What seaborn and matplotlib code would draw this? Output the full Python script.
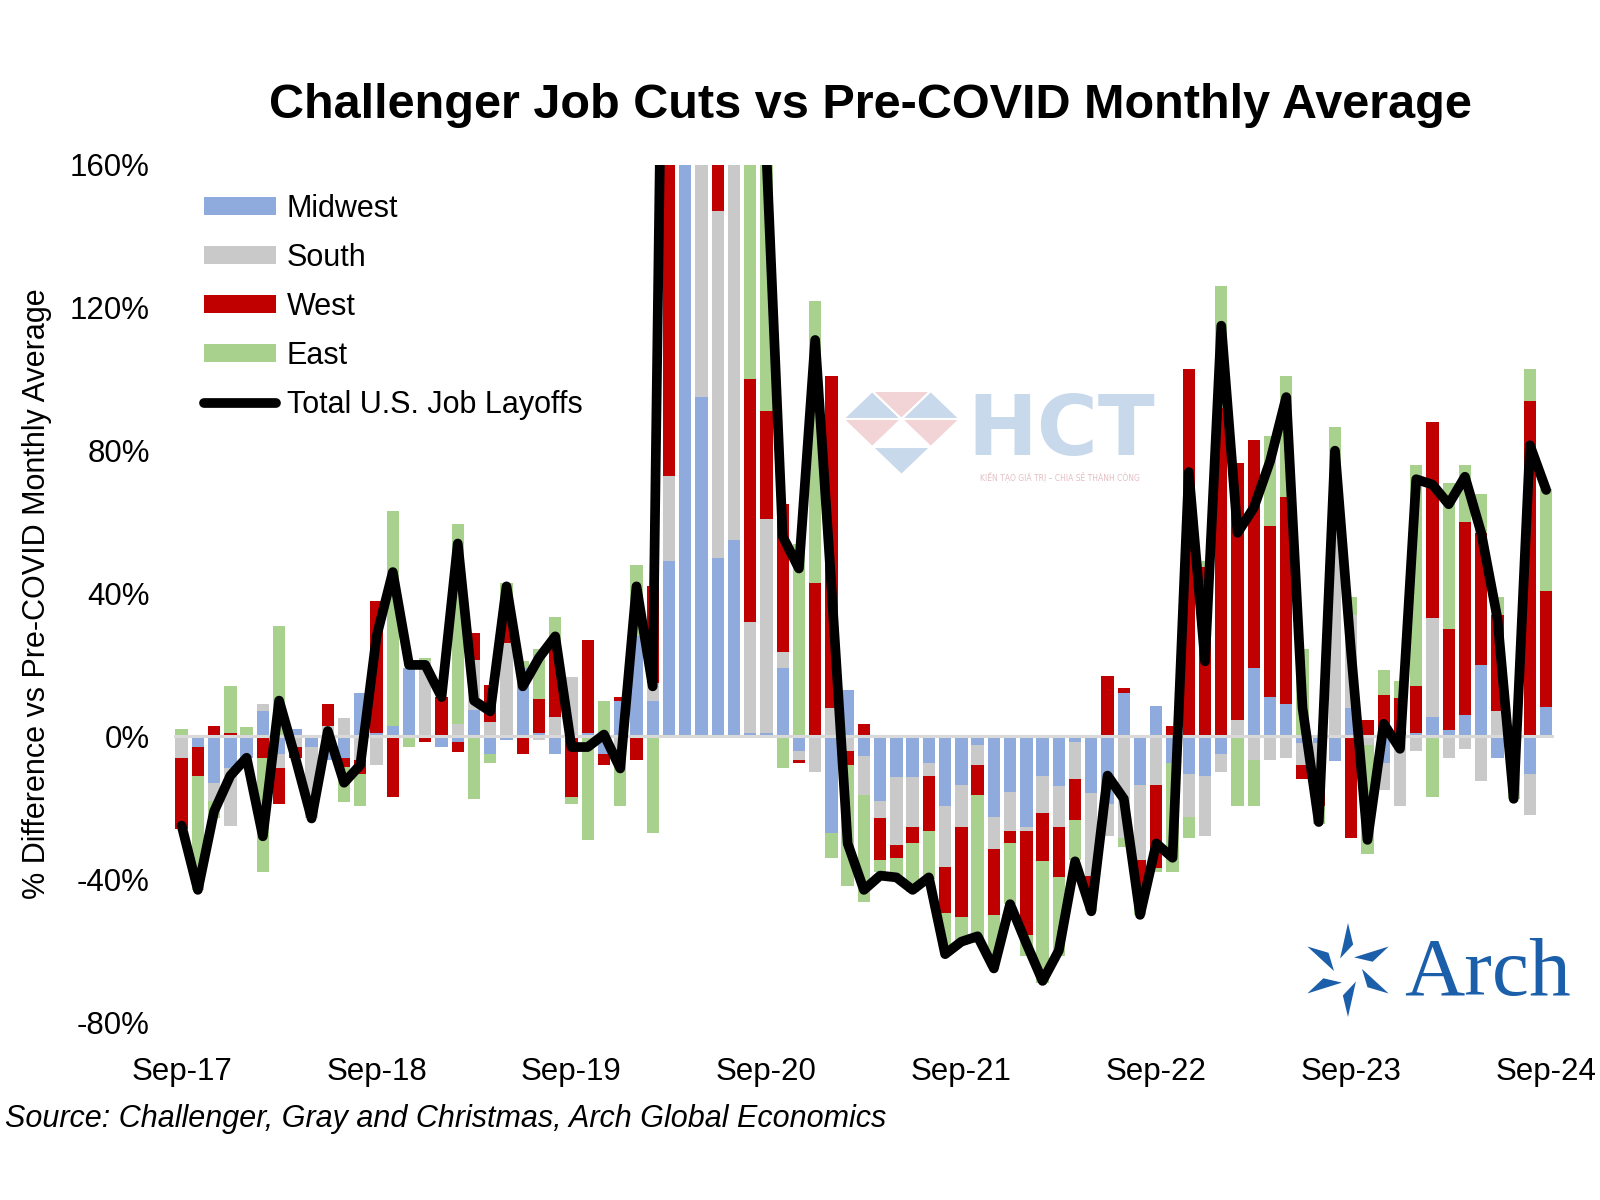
import numpy as np
import pandas as pd
import matplotlib
matplotlib.use('Agg')
import matplotlib.pyplot as plt
from matplotlib.patches import Patch, Polygon
from matplotlib.lines import Line2D
import seaborn as sns

# Monthly data, Sep-17 .. Sep-24 (% difference vs pre-COVID monthly average)
months = pd.date_range('2017-09-01', '2024-09-01', freq='MS')

midwest = [0, -3, -13, -9, -6, 7, -5, 2, -3, -6.5,
           -6, 12, 1, 3, 19, 0, -3, -1.5, 7.5, -5,
           -1, 19, 1, -5, 0, 1, -5, 10, 28, 10,
           49, 400, 95, 50, 55, 1, 1, 19, -4, 0,
           -27, 13, -5.5, -18, -11.5, -11.5, -7.5, -19.5, -13.5, -2.5,
           -22.5, -15.5, -25.5, -11, -14, -1.5, -16, -19, 12, -13.5,
           8.5, -7.5, -10.5, -11, -5, 0, 19, 11, 9, -2,
           -2, -7, 8, 0, -7.5, 0, 1, 5.5, 1.7, 6,
           20, -6, -1, -10.5, 8.3]
south = [-6, 0, -5, -16, 0, 2, -4, -3, -20, 3,
         5, -6.5, -8, 0, 0, 21, 0, 3.5, 14, 4,
         26, 0, -1, 5.5, 16.5, 0, 0, -3.5, 0, 5,
         24, 300, 300, 97, 200, 31, 60, 4.5, -2.5, -10,
         8, -4, -11, -5, -19, -14, -3.5, -17, -12, -5.5,
         -9, -11, -1, -10.5, -11.5, -10.5, -23, -9, -28.5, -21,
         -13.5, 0, -12, -17, -5, 4.5, -6.5, -6.5, -6, -6,
         -11, 59, 26, -2.5, -7.5, -19.5, -4, 27.5, -6, -3.5,
         -12.5, 7, 0, -11.5, 0]
west = [-20, -8, 3, 1, 0, -6, -10, -3, 0, 6,
        -2.5, -4, 37, -17, 0, -1.5, 11, -3, 7.5, 10.5,
        7, -5, 9.5, 19, -17, 26, -3, 1, -6.5, 27,
        150, 300, 150, 40, 100, 68, 30, 41.5, -1, 43,
        93, -4, 3.5, -11.5, -3.5, -4.5, -15.5, -13, -25, -8.5,
        -18.5, -3.5, -29, -13.5, -14, -11.5, -4, 17, 1.5, -9.5,
        -23.5, 3, 103, 47.5, 92, 72, 64, 48, 58, -4,
        -6.5, 13.5, -28.5, 4.5, 11.5, 10.7, 13, 55, 28.3, 54,
        37, 27, 0, 94, 32.3]
east = [2, -32, -5, 13, 2.5, -32, 31, 0, 0, 0,
        -10, -9, 0, 60, -3, 1, 0, 56, -17.5, -2.5,
        10, 2, 14, 9, -2, -29, 10, -16, 20, -27,
        127, 250, 155, 53, 75, 90, 72, -9, 54, 79,
        -7, -34, -30, -3.5, -5, -13.5, -13.5, -10, -8, -41.5,
        -12, -17, -6, -34, -22, -11, -6, 0, -2.5, -6,
        -1, -30.5, -6, 1.5, 34, -19.5, -13, 25, 34, 24.5,
        -5, 14, 5, -30.5, 7, 4.7, 62, -17, 41, 16,
        11, 5, -16.5, 9, 28.6]
total = [-25, -43, -21, -11, -6, -28, 10, -6, -23, 1.5,
         -13, -8, 28, 46, 20, 20, 11, 54, 10, 7,
         42, 14, 22, 28, -3, -3, 0.5, -9, 42, 14,
         350, 1250, 700, 240, 430, 190, 163, 56, 47, 111,
         42, -30, -43, -39, -39.5, -43, -39.5, -61, -57.5, -56,
         -65, -47, -58, -68.5, -60, -35, -49, -11, -17.5, -50,
         -30, -34, 74, 21, 115, 57, 64, 77, 95, 8,
         -24, 80, 23, -29, 3.5, -3.5, 72, 70.5, 65, 72.7,
         57, 33, -17.5, 81.5, 69]

df = pd.DataFrame({'month': months, 'Midwest': midwest, 'South': south,
                   'West': west, 'East': east, 'Total': total})
df['x'] = np.arange(len(df))

colors = {'Midwest': '#8FAADC', 'South': '#C9C9C9', 'West': '#C00000', 'East': '#A9D18E'}

sns.set_theme(style='white')
plt.rcParams['font.family'] = ['Liberation Sans', 'DejaVu Sans']
plt.rcParams['text.color'] = 'black'
plt.rcParams['axes.labelcolor'] = 'black'

W, H = 1600, 1200
fig = plt.figure(figsize=(16, 12), dpi=100)
ax = fig.add_axes([173.5 / W, 1 - 1022 / H, 1380.8 / W, 857 / H])

# diverging stacked bars: positives stack up, negatives stack down
pos_base = np.zeros(len(df))
neg_base = np.zeros(len(df))
for region, c in colors.items():
    v = df[region].to_numpy(float)
    p = np.where(v > 0, v, 0)
    n = np.where(v < 0, v, 0)
    ax.bar(df['x'], p, bottom=pos_base, width=0.76, color=c, linewidth=0, zorder=2)
    ax.bar(df['x'], n, bottom=neg_base, width=0.76, color=c, linewidth=0, zorder=2)
    pos_base += p
    neg_base += n

ax.axhline(0, color='#D9D9D9', lw=2.2, zorder=2.5)

sns.lineplot(x='x', y='Total', data=df, color='black', linewidth=7, ax=ax, zorder=4,
             solid_joinstyle='round', solid_capstyle='round')

ax.set_xlim(-0.5, len(df) - 0.5)
ax.set_ylim(-80, 160)
ax.set_yticks(range(-80, 161, 40))
ax.set_yticklabels([f'{v}%' for v in range(-80, 161, 40)])
sep = df['month'].dt.month == 9
ax.set_xticks(df['x'][sep])
ax.set_xticklabels(df['month'][sep].dt.strftime('Sep-%y'))
ax.tick_params(axis='both', length=0, labelsize=22.5, colors='black')
ax.tick_params(axis='y', pad=17)
ax.tick_params(axis='x', pad=25)
for s in ax.spines.values():
    s.set_visible(False)
ax.set_xlabel('')
ax.set_ylabel('% Difference vs Pre-COVID Monthly Average', fontsize=22, color='black')
ax.yaxis.set_label_coords(-0.088, 0.5)

# legend
handles = [Patch(facecolor=c, edgecolor='none') for c in colors.values()]
handles.append(Line2D([0], [0], color='black', lw=7, solid_capstyle='round'))
labels = list(colors.keys()) + ['Total U.S. Job Layoffs']
fig.legend(handles, labels, loc='upper left', bbox_to_anchor=(204 / W, 1 - 194 / H),
           frameon=False, fontsize=22, handlelength=2.35, handleheight=0.55,
           handletextpad=0.36, labelspacing=0.62, borderpad=0, borderaxespad=0)

fig.text(870 / W, 1 - 106 / H, 'Challenger Job Cuts vs Pre-COVID Monthly Average',
         ha='center', va='center', fontsize=35, fontweight='bold')
fig.text(5 / W, 1 - 1119 / H, 'Source: Challenger, Gray and Christmas, Arch Global Economics',
         ha='left', va='center', fontsize=22, style='italic')

# HCT watermark
x0, s, hh, top = 843, 58.5, 28, 391
def px(pts):
    return [(x / W, 1 - y / H) for x, y in pts]
tris = [
    ([(x0, top + hh), (x0 + s, top + hh), (x0 + s / 2, top)], '#C9D9EC'),
    ([(x0 + s / 2, top), (x0 + 1.5 * s, top), (x0 + s, top + hh)], '#F2D3D6'),
    ([(x0 + s, top + hh), (x0 + 2 * s, top + hh), (x0 + 1.5 * s, top)], '#C9D9EC'),
    ([(x0, top + hh), (x0 + s, top + hh), (x0 + s / 2, top + 2 * hh)], '#F2D3D6'),
    ([(x0 + s, top + hh), (x0 + 2 * s, top + hh), (x0 + 1.5 * s, top + 2 * hh)], '#F2D3D6'),
    ([(x0 + s / 2, top + 2 * hh), (x0 + 1.5 * s, top + 2 * hh), (x0 + s, top + 3 * hh)], '#C9D9EC'),
]
for pts, c in tris:
    fig.patches.append(Polygon(px(pts), closed=True, facecolor=c, edgecolor='white', lw=1.5,
                               transform=fig.transFigure, zorder=0))
fig.text(967 / W, 1 - 472 / H, 'HCT', fontsize=60, fontweight='bold', color='#C9D9EC',
         family='DejaVu Sans', ha='left', va='bottom')
fig.text(1060 / W, 1 - 477 / H, 'KIẾN TẠO GIÁ TRỊ – CHIA SẺ THÀNH CÔNG', fontsize=5.5,
         color='#E3BFC3', family='DejaVu Sans', ha='center', va='center')

# Arch logo
cx, cy = 1348, 970
for k in range(6):
    th = np.deg2rad(90 + 60 * k)
    tip = (cx + 47 * np.cos(th), cy - 47 * np.sin(th))
    b1 = (cx + 14 * np.cos(th + 0.6), cy - 14 * np.sin(th + 0.6))
    b2 = (cx + 26 * np.cos(th - 0.2), cy - 26 * np.sin(th - 0.2))
    fig.patches.append(Polygon(px([tip, b1, b2]), closed=True, facecolor='#1B5FAA',
                               edgecolor='none', transform=fig.transFigure))
fig.text(1404 / W, 1 - 995 / H, 'Arch', fontsize=60, color='#1B5FAA',
         family='Liberation Serif', ha='left', va='baseline')

fig.savefig('out.png', dpi=100, facecolor='white')
